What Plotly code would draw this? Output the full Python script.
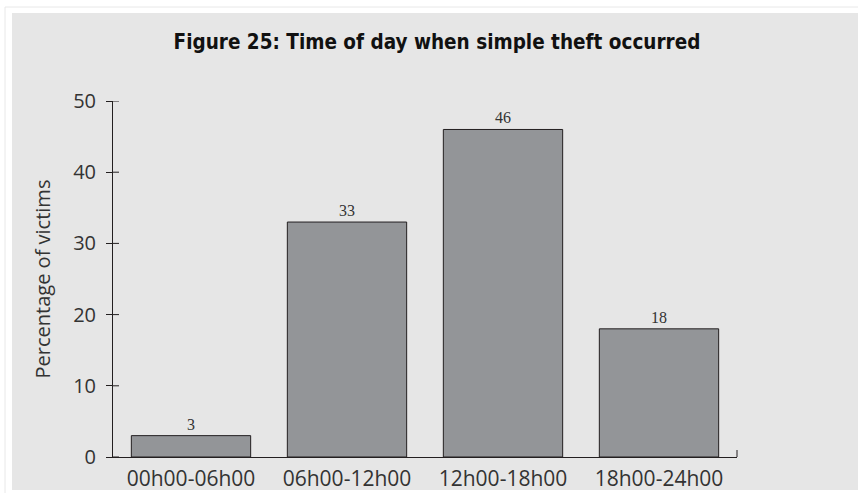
import plotly.graph_objects as go

categories = ['00h00-06h00', '06h00-12h00', '12h00-18h00', '18h00-24h00']
victims_pct = [3, 33, 46, 18]
y_ticks = [0, 10, 20, 30, 40, 50]

W, H = 858, 493
L, R, T, B = 113, 121, 101, 36
pw, ph = W - L - R, H - T - B


def px_x(x):
    return (x - L) / pw


def px_y(y):
    return (H - B - y) / ph


fig = go.Figure()
fig.add_trace(go.Bar(
    x=categories,
    y=victims_pct,
    width=0.765,
    marker=dict(color='#939598', line=dict(color='#231f20', width=1)),
    text=[str(v) for v in victims_pct],
    textposition='outside',
    textfont=dict(family='Liberation Serif', size=16, color='#333333'),
    cliponaxis=False,
    hoverinfo='skip',
))

shapes = [
    # outer faint frame
    dict(type='rect', xref='paper', yref='paper', layer='below',
         x0=px_x(5), x1=px_x(W + 5), y0=px_y(H + 5), y1=px_y(7),
         line=dict(color='#e8e8e8', width=1), fillcolor='white'),
    # grey panel
    dict(type='rect', xref='paper', yref='paper', layer='below',
         x0=px_x(12), x1=px_x(W + 5), y0=px_y(490), y1=px_y(13),
         line=dict(width=0), fillcolor='#e6e6e6'),
    # end tick on the x axis
    dict(type='line', xref='paper', yref='paper',
         x0=1, x1=1, y0=0, y1=px_y(H - B - 7),
         line=dict(color='#231f20', width=1)),
]

fig.update_layout(
    width=W, height=H,
    margin=dict(l=L, r=R, t=T, b=B, pad=0),
    paper_bgcolor='white',
    plot_bgcolor='rgba(0,0,0,0)',
    showlegend=False,
    shapes=shapes,
    title=dict(
        text='<b>Figure 25: Time of day when simple theft occurred</b>',
        x=437 / W, xref='container', xanchor='center',
        y=1 - 42 / H, yref='container', yanchor='middle',
        font=dict(family='DejaVu Sans Condensed', size=20.5, color='#111111'),
    ),
    font=dict(family='Open Sans', color='#333333'),
)
fig.update_xaxes(
    range=[-0.5, 3.5],
    automargin=False,
    showline=True, linecolor='#231f20', linewidth=1,
    ticks='', showgrid=False, zeroline=False,
    ticklabelstandoff=3,
    tickfont=dict(family='Open Sans', size=21, color='#333333'),
    fixedrange=True,
)
fig.update_yaxes(
    range=[0, 50],
    automargin=False,
    tickvals=y_ticks,
    showline=True, linecolor='#231f20', linewidth=1,
    ticks='outside', ticklen=6, tickcolor='#231f20',
    ticklabelstandoff=6,
    showgrid=False, zeroline=False,
    tickfont=dict(family='Open Sans', size=20, color='#333333'),
    title=dict(text='Percentage of victims', standoff=17,
               font=dict(family='Open Sans', size=20, color='#333333')),
)
# inward half of the y ticks
for v in y_ticks:
    fig.add_shape(type='line', xref='paper', yref='y',
                  x0=0, x1=px_x(L + 6), y0=v, y1=v,
                  line=dict(color='#231f20', width=1))

fig.write_html(
    'out.html',
    config={'displayModeBar': False},
    post_script="document.body.style.margin='0';document.body.style.overflow='hidden';",
)
